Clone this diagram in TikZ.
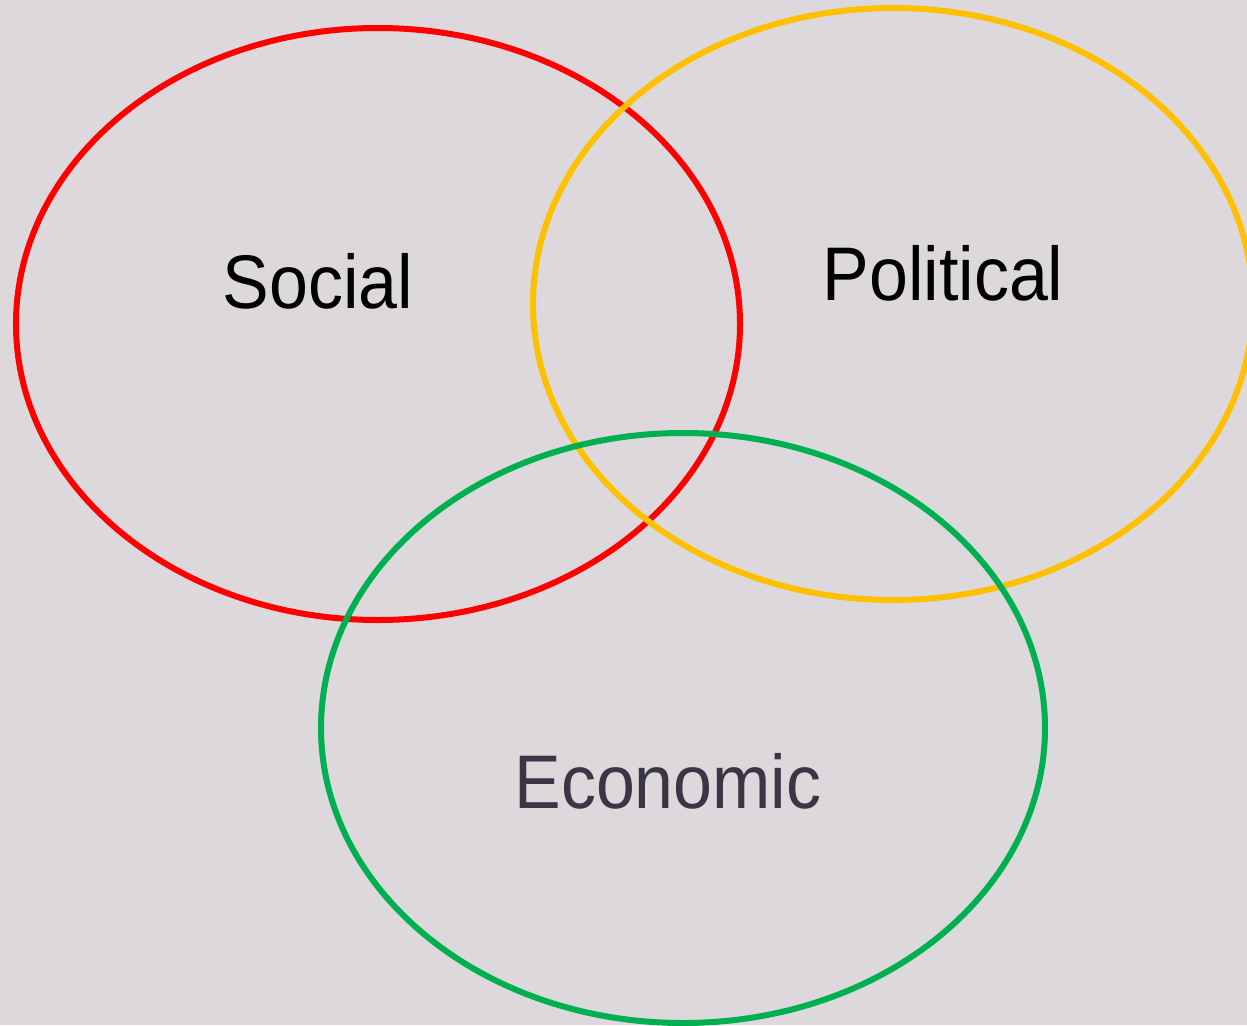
\documentclass[tikz,border=0pt]{standalone}
\usepackage{fontspec}
\setmainfont{Liberation Sans}
\begin{document}
\begin{tikzpicture}[x=1pt,y=-1pt,
  ring/.style={line width=6pt},
  lbl/.style={font=\fontsize{76}{80}\selectfont, anchor=base, inner sep=0pt, xscale=0.92, transform shape}]
\definecolor{bg}{HTML}{DCD8DB}
\definecolor{vred}{HTML}{FF0000}
\definecolor{vyel}{HTML}{FFC000}
\definecolor{vgrn}{HTML}{00B050}
\definecolor{etxt}{HTML}{3A3645}
\clip (0,0) rectangle (1247,1025);
\fill[bg] (0,0) rectangle (1247,1025);
\useasboundingbox (0,0) rectangle (1247,1025);
\draw[ring, vred] (378,324) ellipse [x radius=362, y radius=296];
\draw[ring, vyel] (893,304) ellipse [x radius=360, y radius=296];
\draw[ring, vgrn] (683,728) ellipse [x radius=362, y radius=295];
\node[lbl] (social) at (318,308) {Social};
\node[lbl] (political) at (943,300) {Political};
\node[lbl, text=etxt] (economic) at (668,808) {Economic};
\end{tikzpicture}
\end{document}
